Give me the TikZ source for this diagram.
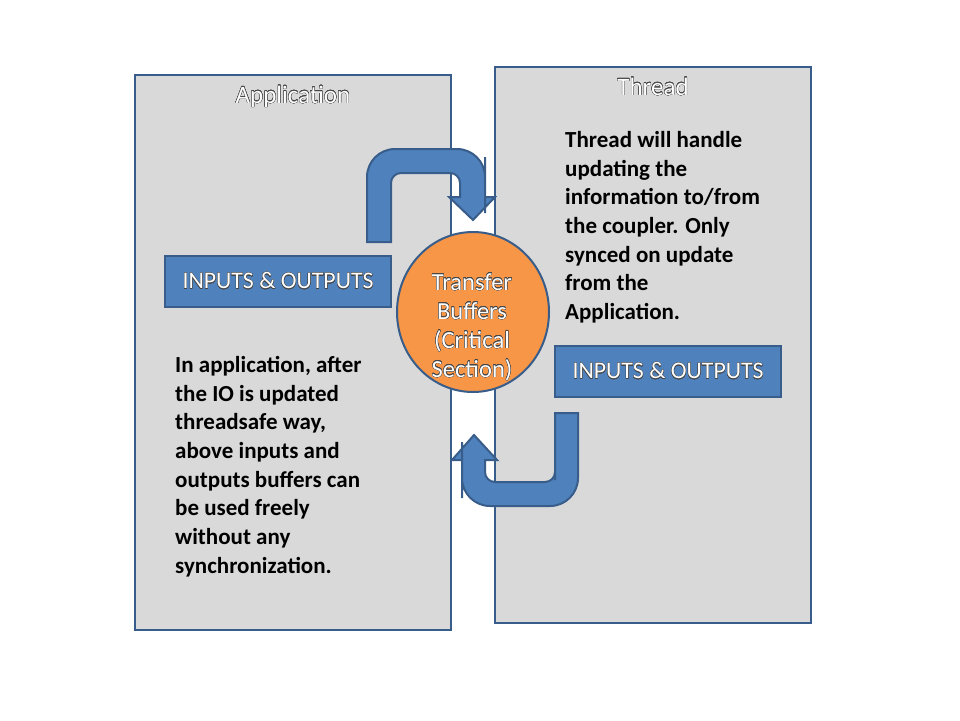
\documentclass[tikz,border=0pt]{standalone}
\usepackage{fontspec}
\setmainfont{Carlito}
\usepackage{contour}
\contourlength{0.25pt}
\contournumber{16}
\usepackage{tikz}
\usetikzlibrary{
  positioning,
  shapes.geometric
}
\definecolor{panelgray}{RGB}{217,217,217}
\definecolor{edgeblue}{RGB}{56,93,138}
\definecolor{fillblue}{RGB}{79,129,189}
\definecolor{bufferorange}{RGB}{247,150,70}
\definecolor{outlinegray}{RGB}{70,70,70}
\tikzset{
  panelbox/.style={draw=edgeblue, fill=panelgray, line width=2pt,
    minimum width=316pt, inner sep=0pt},
  paneltitle/.style={text=white, inner sep=0pt,
    font=\fontsize{25}{30}\selectfont},
  iobox/.style={draw=edgeblue, fill=fillblue, line width=2pt,
    minimum width=226pt, minimum height=51pt, inner sep=0pt,
    text=white, font=\fontsize{23.8}{28}\selectfont},
  bufellipse/.style={ellipse, draw=edgeblue, fill=bufferorange,
    line width=2pt, minimum width=152pt, minimum height=160pt,
    inner sep=0pt},
  buftext/.style={align=center, text=white, inner sep=0pt,
    font=\fontsize{24.5}{29}\selectfont},
  notetext/.style={align=left, inner sep=0pt, anchor=north west,
    font=\bfseries\fontsize{23}{28.7}\selectfont},
  blockarrow/.style={draw=edgeblue, fill=fillblue, line width=2pt,
    line join=miter},
}
\newcommand{\outlined}[1]{\contour{outlinegray}{#1}}

\begin{document}
\begin{tikzpicture}[x=1pt, y=-1pt]
  \useasboundingbox (0,0) rectangle (960,720);

  % Panels
  \node[panelbox, minimum height=555pt] (app) at (293,352.5) {};
  \node[panelbox, minimum height=556pt] (thr) at (653,345) {};
  \node[paneltitle, anchor=base] (apptitle) at (293,103)
    {\outlined{Application}};
  \node[paneltitle, anchor=base] (thrtitle) at (653,95)
    {\outlined{Thread}};

  % Block arrows
  \draw[blockarrow] (367,242) [rounded corners=28] -- (367,149)
    -- (485,149) -- (485,185) [sharp corners] -- (485,197) -- (495,197)
    -- (473,220) -- (449,197) -- (460,197) -- (460,185)
    [rounded corners=10] -- (460,173) -- (391,173) -- (391,200)
    [sharp corners] -- (391,242) -- cycle;
  \draw[blockarrow] (578,413) [rounded corners=28] -- (578,506)
    -- (462,506) -- (462,470) [sharp corners] -- (462,460) -- (452,460)
    -- (474,435) -- (497,460) -- (485,460) -- (485,470)
    [rounded corners=10] -- (485,482) -- (555,482) -- (555,470)
    [sharp corners] -- (555,413) -- cycle;

  % IO boxes
  \node[iobox] (appio) at (278,281) {\outlined{INPUTS \& OUTPUTS}};
  \node[iobox] (thrio) at (668,371) {\outlined{INPUTS \& OUTPUTS}};

  % Transfer buffers
  \node[bufellipse] (buf) at (473,312) {};
  \node[buftext] (buflabel) at (472,327)
    {\outlined{Transfer}\\\outlined{Buffers}\\\outlined{(Critical}\\\outlined{Section)}};

  % Notes
  \node[notetext] (thrnote) at (565,131)
    {Thread will handle\\updating the\\information to/from\\the coupler. Only\\synced on update\\from the\\Application.};
  \node[notetext] (appnote) at (175,356)
    {In application, after\\the IO is updated\\threadsafe way,\\above inputs and\\outputs buffers can\\be used freely\\without any\\synchronization.};
\end{tikzpicture}
\end{document}
